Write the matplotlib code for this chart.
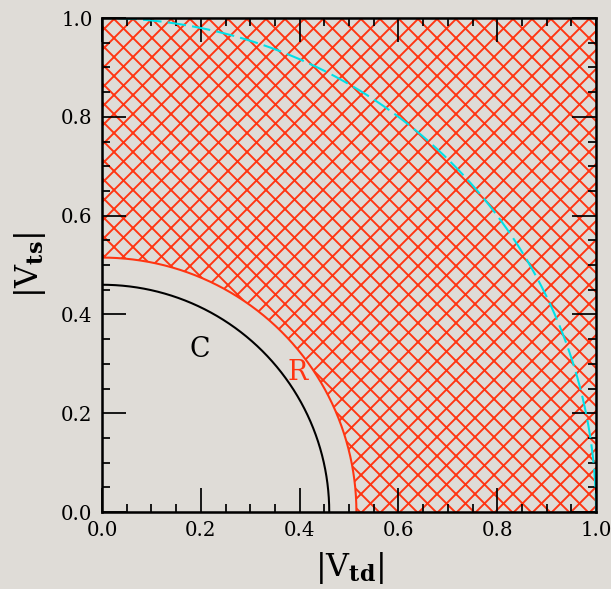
import numpy as np
import matplotlib
matplotlib.use("Agg")
import matplotlib.pyplot as plt
from matplotlib.patches import Polygon

# data
r_C = 0.46      # black circle radius
r_R = 0.515     # red circle radius (hatched region outside)
r_unit = 1.0    # cyan dashed unitarity circle
labels = {"C": (0.198, 0.328), "R": (0.397, 0.283)}
ticks = [0.0, 0.2, 0.4, 0.6, 0.8, 1.0]
tick_labels = ["0.0", "0.2", "0.4", "0.6", "0.8", "1.0"]

DPI = 114
BG = "#dfdcd7"
RED = "#ff3512"
plt.rcParams['hatch.linewidth'] = 1.2
plt.rcParams['hatch.color'] = RED
plt.rcParams['font.family'] = ['DejaVu Serif']
plt.rcParams['mathtext.fontset'] = 'dejavuserif'

fig = plt.figure(figsize=(611/DPI, 589/DPI), dpi=DPI, facecolor=BG)
ax = fig.add_axes([102/611, 77/589, 494/611, 494/589])
ax.set_facecolor(BG)

th = np.linspace(0, np.pi/2, 400)
# hatched region: square minus quarter disk r_R
pts = [(1, 0), (1, 1), (0, 1), (0, r_R)] + list(zip(r_R*np.sin(th), r_R*np.cos(th)))
poly = Polygon(pts, closed=True, facecolor='none', edgecolor=RED, hatch='xx', lw=0)
ax.add_patch(poly)

ax.plot(r_R*np.cos(th), r_R*np.sin(th), color=RED, lw=1.3)
ax.plot(r_C*np.cos(th), r_C*np.sin(th), color='black', lw=1.3)
ax.plot(r_unit*np.cos(th), r_unit*np.sin(th), color='#00e0e8', lw=1.3, ls=(0, (9, 3)))

ax.text(*labels["C"], "C", fontsize=17, color='black', ha='center', va='center')
ax.text(*labels["R"], "R", fontsize=17, color=RED, ha='center', va='center')

ax.set_xlim(0, 1)
ax.set_ylim(0, 1)
ax.set_xticks(ticks)
ax.set_yticks(ticks)
ax.set_xticks(np.arange(0, 1.01, 0.05), minor=True)
ax.set_yticks(np.arange(0, 1.01, 0.05), minor=True)
ax.set_xticklabels(tick_labels)
ax.set_yticklabels(tick_labels)
ax.tick_params(which='both', direction='in', top=True, right=True, color='black', labelsize=12.5)
ax.tick_params(which='major', length=15, width=1.1, pad=6)
ax.tick_params(which='minor', length=5, width=1.1)
for s in ax.spines.values():
    s.set_linewidth(1.6)

ax.set_xlabel(r"$|\mathrm{V}_{\mathbf{td}}|$", fontsize=20, labelpad=6)
ax.set_ylabel(r"$|\mathrm{V}_{\mathbf{ts}}|$", fontsize=20, labelpad=8)

fig.savefig("out.png", dpi=DPI, facecolor=BG)
